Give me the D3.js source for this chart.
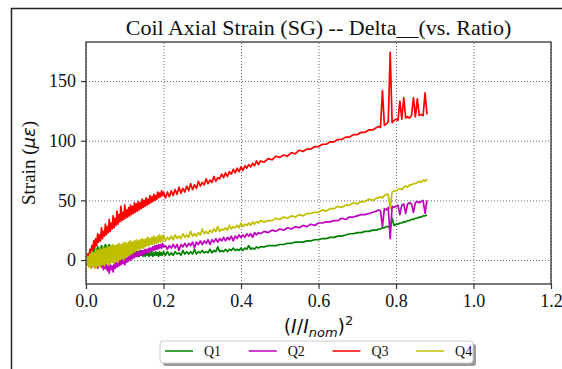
<!DOCTYPE html>
<html>
<head>
<meta charset="utf-8">
<script src="https://cdn.jsdelivr.net/npm/d3@7"></script>
<style>
  body { margin: 0; background: #fff; }
  svg text { font-family: "Liberation Serif", "Times New Roman", serif; }
</style>
</head>
<body>
<div id="graph-container"></div>
<script>
// Sample points of (I/Inom)^2
var ratio = [
  0.0025,0.005,0.0075,0.01,0.0125,0.015,0.0175,0.02,0.0225,0.025,
  0.0275,0.03,0.0325,0.035,0.0375,0.04,0.0425,0.045,0.0475,0.05,
  0.0525,0.055,0.0575,0.06,0.0625,0.065,0.0675,0.07,0.0725,0.075,
  0.0775,0.08,0.0825,0.085,0.0875,0.09,0.0925,0.095,0.0975,0.1,
  0.1025,0.105,0.1075,0.11,0.1125,0.115,0.1175,0.12,0.1225,0.125,
  0.1275,0.13,0.1325,0.135,0.1375,0.14,0.1425,0.145,0.1475,0.15,
  0.1525,0.155,0.1575,0.16,0.1625,0.165,0.1675,0.17,0.1725,0.175,
  0.1775,0.18,0.1825,0.185,0.1875,0.19,0.1925,0.195,0.1975,0.2,
  0.205,0.21,0.215,0.22,0.225,0.23,0.235,0.24,0.245,0.25,
  0.255,0.26,0.265,0.27,0.275,0.28,0.285,0.29,0.295,0.3,
  0.305,0.31,0.315,0.32,0.325,0.33,0.335,0.34,0.345,0.35,
  0.355,0.36,0.365,0.37,0.375,0.38,0.385,0.39,0.395,0.4,
  0.405,0.41,0.415,0.42,0.425,0.43,0.435,0.44,0.445,0.45,
  0.46,0.47,0.48,0.49,0.5,0.51,0.52,0.53,0.54,0.55,
  0.56,0.57,0.58,0.59,0.6,0.61,0.62,0.63,0.64,0.65,
  0.66,0.67,0.68,0.69,0.7,0.71,0.72,0.73,0.74,0.75,
  0.755,0.76,0.765,0.77,0.775,0.78,0.785,0.79,0.795,0.8,
  0.805,0.81,0.815,0.82,0.825,0.83,0.835,0.84,0.845,0.85,
  0.855,0.86,0.865,0.87,0.875,0.88
];

var q1 = [
  2,5,3,7,4,8,5,10,6,9,
  7,11,7,10,8,12,8,11,9,13,
  8,12,9,13,8,11,8,12,7,11,
  7,12,6,10,6,10,5,9,5,9,
  4,8,5,9,4,8,4,7,3,8,
  4,7,3,7,3,8,4,7,3,7,
  3,6,4,7,3,6,4,7,3,6,
  4,7,4,6,3,7,4,6,4,7,
  4,7,4,6,4,7,5,6,4,8,
  5,7,5,7,5,9,5,7,6,8,
  6,7,6,9,6,8,7,11,7,8,
  7,9,7,9,8,10,8,9,8,10,
  8,10,9,12,9,10,9,11,10,11,
  11,12,12,12,13,13,14,14,15,15,
  15,16,16,17,17,18,18,19,19,20,
  20,21,22,22,23,23,24,24,25,25,
  26,26,27,27,28,28,27,35,29,30,
  30,31,31,32,32,33,33,34,34,35,
  35,36,36,37,37,38
];

var q2 = [
  -2,-4,-1,-5,-2,-6,-3,-5,-2,-6,
  -3,-7,-4,-5,-2,-6,-3,-8,-4,-7,
  -3,-9,-5,-11,-4,-8,-5,-10,-3,-7,
  -2,-6,-1,-5,0,-4,1,-3,2,-4,
  1,-2,3,-1,4,0,5,1,5,2,
  6,3,7,3,7,4,8,4,8,5,
  9,6,9,6,10,7,10,8,11,8,
  12,9,12,9,13,10,13,10,14,11,
  12,9,12,10,13,10,13,8,13,11,
  14,11,14,12,15,10,15,13,16,13,
  16,14,17,13,17,15,18,15,18,16,
  19,16,19,17,20,16,20,18,21,19,
  21,19,22,20,22,19,23,21,23,22,
  24,23,25,24,26,25,27,26,28,27,
  29,28,30,29,31,31,32,32,33,33,
  35,34,36,36,37,38,38,39,40,41,
  42,41,28,43,42,44,18,45,44,45,
  46,38,46,47,39,47,48,47,40,48,
  49,48,49,50,39,50
];

var q3 = [
  2,5,3,9,5,12,8,16,10,18,
  12,22,15,21,16,27,18,24,20,30,
  21,28,23,34,24,31,26,37,27,35,
  29,41,30,38,32,45,33,40,34,46,
  35,42,36,44,37,46,38,45,39,48,
  40,47,41,49,42,48,43,51,44,50,
  45,52,46,51,47,54,48,53,49,55,
  50,54,51,57,52,56,53,58,54,57,
  52,57,53,58,54,59,55,61,56,60,
  57,62,58,64,59,63,60,66,62,65,
  63,68,64,67,65,70,66,69,68,72,
  69,73,70,74,72,76,73,77,74,78,
  75,79,77,80,78,81,79,83,80,83,
  82,85,84,87,86,88,87,90,89,92,
  91,93,93,95,95,97,97,99,99,101,
  101,103,103,105,105,107,107,109,109,111,
  112,111,142,113,114,116,174,115,117,118,
  117,133,118,136,119,120,119,121,136,120,
  135,121,122,121,140,122
];

var q4 = [
  -4,3,-6,5,-7,7,-5,6,-7,9,
  -6,8,-5,10,-6,9,-4,11,-5,10,
  -3,12,-4,11,-3,12,-2,13,-3,12,
  -1,13,-2,14,0,13,1,14,0,15,
  2,14,3,15,4,16,5,15,6,16,
  7,17,8,16,9,17,10,18,10,17,
  11,18,12,19,12,18,13,19,13,20,
  14,19,14,20,15,21,15,20,16,21,
  16,19,17,20,17,21,18,20,18,22,
  19,21,19,24,20,22,20,23,21,26,
  22,24,22,25,23,26,24,28,24,26,
  25,27,25,29,26,28,27,29,27,31,
  28,30,29,31,29,32,30,32,31,33,
  32,33,33,35,34,36,35,37,36,38,
  37,39,39,40,40,42,41,43,43,45,
  44,46,46,48,47,49,49,51,50,52,
  52,53,52,54,55,55,43,57,58,58,
  59,60,59,61,62,61,63,63,64,64,
  65,66,65,67,66,68
];

var seriesNames = ["Q1", "Q2", "Q3", "Q4"];
var seriesValues = [q1, q2, q3, q4];
var seriesColors = ["#008000", "#bf00bf", "#ff0000", "#bfbf00"];
var xTicks = [0, 0.2, 0.4, 0.6, 0.8, 1.0, 1.2];
var yTicks = [0, 50, 100, 150];

var svgWidth = 562;
var svgHeight = 369;

var svg = d3.select("#graph-container")
  .append("svg")
  .attr("width", svgWidth)
  .attr("height", svgHeight);

// outer frame of the cropped figure
svg.append("path")
  .attr("d", "M11.5," + (svgHeight + 2) + "V8.5H" + (svgWidth + 2))
  .attr("fill", "none")
  .attr("stroke", "#222")
  .attr("stroke-width", 1.5);

var margin = { top: 42, right: 11, bottom: 85, left: 86 };
var chartWidth = svgWidth - margin.left - margin.right;
var chartHeight = svgHeight - margin.top - margin.bottom;

var chart = svg.append("g")
  .attr("transform", "translate(" + margin.left + "," + margin.top + ")");

var xScale = d3.scaleLinear().domain([0, 1.2]).range([0, chartWidth]);
var yScale = d3.scaleLinear().domain([-20.1, 182.7]).range([chartHeight, 0]);

// grid
var xGrid = chart.append("g")
  .attr("transform", "translate(0," + chartHeight + ")")
  .call(d3.axisBottom(xScale).tickValues(xTicks).tickSize(-chartHeight).tickFormat(""));
var yGrid = chart.append("g")
  .call(d3.axisLeft(yScale).tickValues(yTicks).tickSize(-chartWidth).tickFormat(""));
[xGrid, yGrid].forEach(function (g) {
  g.select(".domain").remove();
  g.selectAll(".tick line")
    .attr("stroke", "#444")
    .attr("stroke-width", 0.8)
    .attr("stroke-dasharray", "1,2");
});

// lines
chart.append("clipPath").attr("id", "plot-clip")
  .append("rect").attr("width", chartWidth).attr("height", chartHeight);

seriesValues.forEach(function (vals, i) {
  var line = d3.line()
    .x(function (d, j) { return xScale(ratio[j]); })
    .y(function (d) { return yScale(d); });
  chart.append("path")
    .datum(vals)
    .attr("clip-path", "url(#plot-clip)")
    .attr("fill", "none")
    .attr("stroke", seriesColors[i])
    .attr("stroke-width", 1.7)
    .attr("stroke-linejoin", "round")
    .attr("d", line);
});

// axes
var xAxis = chart.append("g")
  .attr("transform", "translate(0," + chartHeight + ")")
  .call(d3.axisBottom(xScale).tickValues(xTicks).tickSize(5).tickPadding(5)
    .tickFormat(d3.format(".1f")));
var yAxis = chart.append("g")
  .call(d3.axisLeft(yScale).tickValues(yTicks).tickSize(5).tickPadding(5));
[xAxis, yAxis].forEach(function (g) {
  g.select(".domain").remove();
  g.selectAll(".tick line").attr("stroke", "#333").attr("stroke-width", 1.2);
  g.selectAll(".tick text")
    .attr("fill", "#111")
    .style("font-family", "'Liberation Serif', serif")
    .style("font-size", "18px");
});

// spines
chart.append("rect")
  .attr("width", chartWidth)
  .attr("height", chartHeight)
  .attr("fill", "none")
  .attr("stroke", "#333")
  .attr("stroke-width", 1.3);

// title
svg.append("text")
  .attr("x", margin.left + chartWidth / 2)
  .attr("y", 35)
  .attr("text-anchor", "middle")
  .style("font-size", "22px")
  .attr("fill", "#111")
  .text("Coil Axial Strain (SG) -- Delta__(vs. Ratio)");

// x label
var xl = svg.append("text")
  .attr("x", margin.left + chartWidth / 2)
  .attr("y", 333)
  .attr("text-anchor", "middle")
  .attr("fill", "#111")
  .style("font-family", "'DejaVu Sans', sans-serif")
  .style("font-size", "19px");
xl.append("tspan").text("(");
xl.append("tspan").style("font-style", "italic").text("I");
xl.append("tspan").text("/");
xl.append("tspan").style("font-style", "italic").text("I");
xl.append("tspan").style("font-style", "italic").style("font-size", "13px").attr("dy", 4).text("nom");
xl.append("tspan").attr("dy", -4).text(")");
xl.append("tspan").style("font-size", "13px").attr("dy", -8).text("2");

// y label
var yl = svg.append("text")
  .attr("transform", "translate(35," + (margin.top + chartHeight / 2) + ") rotate(-90)")
  .attr("text-anchor", "middle")
  .attr("fill", "#111")
  .style("font-size", "19px");
yl.append("tspan").text("Strain (");
yl.append("tspan").style("font-family", "'DejaVu Sans', sans-serif").style("font-style", "italic")
  .style("font-size", "18px").text("\u03bc\u03b5");
yl.append("tspan").text(")");

// legend
var legend = svg.append("g").attr("transform", "translate(160,341)");
legend.append("rect")
  .attr("x", 3).attr("y", 3).attr("width", 313).attr("height", 22)
  .attr("rx", 3).attr("fill", "#999");
legend.append("rect")
  .attr("width", 313).attr("height", 22)
  .attr("rx", 3).attr("fill", "#fff")
  .attr("stroke", "#ccc").attr("stroke-width", 1);
seriesNames.forEach(function (name, i) {
  var item = legend.append("g").attr("transform", "translate(" + (5 + i * 83.7) + ",0)");
  item.append("line")
    .attr("x1", 0).attr("x2", 28).attr("y1", 10).attr("y2", 10)
    .attr("stroke", seriesColors[i]).attr("stroke-width", 1.5);
  item.append("text")
    .attr("x", 39).attr("y", 15)
    .attr("fill", "#111")
    .style("font-size", "14px")
    .text(name);
});
</script>
</body>
</html>
